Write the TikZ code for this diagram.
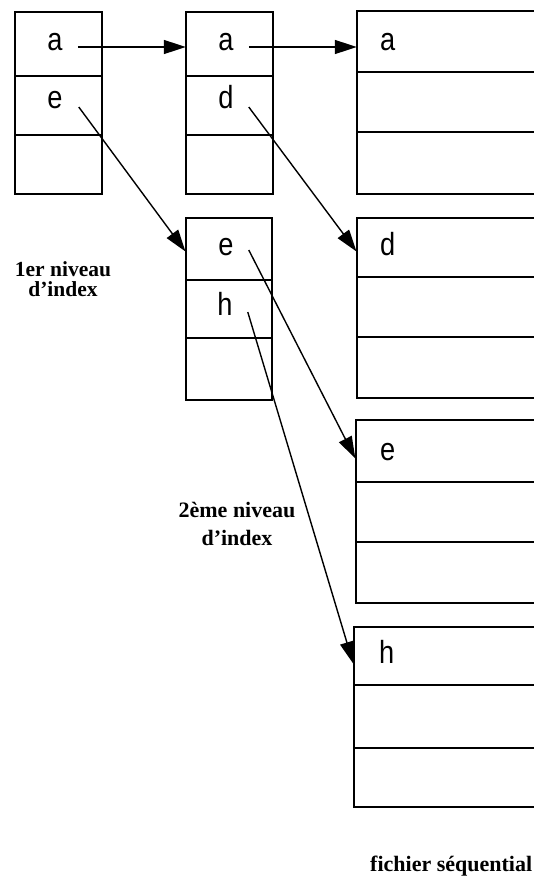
\documentclass[tikz,border=0pt]{standalone}
\usepackage{fontspec}
\setmainfont{Liberation Serif}
\newfontfamily\cellfont[FakeStretch=0.85]{Liberation Sans}
\usetikzlibrary{arrows.meta}
\begin{document}
\begin{tikzpicture}[x=1pt,y=-1pt,
  cell/.style={draw, line width=1.7pt, inner sep=0pt, anchor=north west, minimum width=#1},
  cell/.default=87pt,
  letter/.style={inner sep=0pt, anchor=base, font=\cellfont\fontsize{32}{36}\selectfont},
  dletter/.style={letter, anchor=base west},
  lab/.style={inner sep=0pt, align=center, font=\bfseries\fontsize{22}{28}\selectfont},
  arr/.style={line width=1.4pt, -{Triangle[length=22pt,width=14pt]}, shorten >=-0.8pt}
]
\clip (0,0) rectangle (534,887);
\useasboundingbox (0,0) rectangle (534,887);
% ---- first index level
\node[cell, minimum height=64pt] (I1a) at (14,11) {};
\node[cell, minimum height=59pt] (I1e) at (14,75) {};
\node[cell, minimum height=59pt] (I1x) at (14,134) {};
% ---- second index level (upper block)
\node[cell, minimum height=64pt] (I2a) at (185,11) {};
\node[cell, minimum height=59pt] (I2d) at (185,75) {};
\node[cell, minimum height=59pt] (I2x) at (185,134) {};
% ---- second index level (lower block)
\node[cell=86pt, minimum height=62pt] (I3e) at (185,217) {};
\node[cell=86pt, minimum height=58pt] (I3h) at (185,279) {};
\node[cell=86pt, minimum height=62pt] (I3x) at (185,337) {};
% ---- sequential file blocks
\node[cell=220pt, minimum height=61pt] (Fa1) at (356,10) {};
\node[cell=220pt, minimum height=60pt] (Fa2) at (356,71) {};
\node[cell=220pt, minimum height=62pt] (Fa3) at (356,131) {};
\node[cell=220pt, minimum height=59pt] (Fd1) at (356,217) {};
\node[cell=220pt, minimum height=60pt] (Fd2) at (356,276) {};
\node[cell=220pt, minimum height=61pt] (Fd3) at (356,336) {};
\node[cell=220pt, minimum height=62pt] (Fe1) at (355,419) {};
\node[cell=220pt, minimum height=60pt] (Fe2) at (355,481) {};
\node[cell=220pt, minimum height=61pt] (Fe3) at (355,541) {};
\node[cell=220pt, minimum height=58pt] (Fh1) at (353,626) {};
\node[cell=220pt, minimum height=63pt] (Fh2) at (353,684) {};
\node[cell=220pt, minimum height=59pt] (Fh3) at (353,747) {};
% ---- letters
\node[letter] (tA1) at (55,50) {a};
\node[letter] (tE1) at (55,108) {e};
\node[letter] (tA2) at (226,50) {a};
\node[letter] (tD2) at (226,108) {d};
\node[letter] (tE3) at (226,255) {e};
\node[letter] (tH3) at (225,315) {h};
\node[dletter] (fA) at (380,50) {a};
\node[dletter] (fD) at (380,255) {d};
\node[dletter] (fE) at (380,460) {e};
\node[dletter] (fH) at (379,663) {h};
% ---- arrow starting points
\coordinate (sA1) at ([xshift=15pt,yshift=3pt]tA1.base east);
\coordinate (sA2) at ([xshift=15pt,yshift=3pt]tA2.base east);
\coordinate (sE1) at ([xshift=16pt,yshift=1pt]tE1.base east);
\coordinate (sD2) at ([xshift=15pt,yshift=1pt]tD2.base east);
\coordinate (sE3) at ([xshift=15pt,yshift=5pt]tE3.base east);
\coordinate (sH3) at ([xshift=15pt,yshift=3pt]tH3.base east);
% ---- arrows
\draw[arr] (sA1) -- (sA1 -| I2a.west);
\draw[arr] (sA2) -- (sA2 -| Fa1.west);
\draw[arr] (sE1) -- ([yshift=-2pt]I3e.west);
\draw[arr] (sD2) -- ([yshift=-3.5pt]Fd1.west);
\draw[arr] (sE3) -- ([yshift=-7pt]Fe1.west);
\draw[arr] (sH3) -- ([yshift=-7pt]Fh1.west);
% ---- labels
\node[lab, font=\bfseries\fontsize{21.5}{20}\selectfont, anchor=base] (L1) at (63,296) {1er niveau\\d'index};
\node[lab, font=\bfseries\fontsize{22}{28}\selectfont, anchor=base] (L2) at (237,545) {2ème niveau\\d'index};
\node[lab, anchor=base west] (L3) at (370,871) {fichier séquential};
\end{tikzpicture}
\end{document}
